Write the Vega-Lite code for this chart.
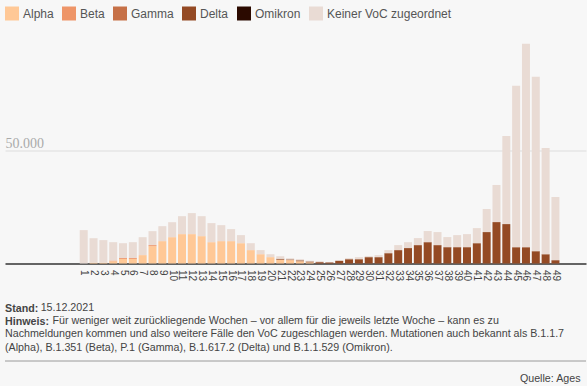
{
  "$schema": "https://vega.github.io/schema/vega-lite/v6.json",
  "width": 581,
  "height": 227,
  "autosize": "none",
  "padding": {"left": 5, "top": 36.5, "right": 1, "bottom": 122.5},
  "background": "#f7f7f7",
  "title": {
    "text": ["Stand:", "Hinweis:"],
    "subtitle": [
      "\u200b\u00a0\u00a0\u00a0\u00a0\u00a0\u00a0\u00a0\u00a0\u00a0\u00a0\u00a0\u00a015.12.2021",
      "\u200b\u00a0\u00a0\u00a0\u00a0\u00a0\u00a0\u00a0\u00a0\u00a0\u00a0\u00a0\u00a0\u00a0\u00a0\u00a0\u00a0Für weniger weit zurückliegende Wochen – vor allem für die jeweils letzte Woche – kann es zu",
      "Nachmeldungen kommen und also weitere Fälle den VoC zugeschlagen werden. Mutationen auch bekannt als B.1.1.7",
      "(Alpha), B.1.351 (Beta), P.1 (Gamma), B.1.617.2 (Delta) und B.1.1.529 (Omikron)."
    ],
    "orient": "bottom",
    "anchor": "start",
    "frame": "group",
    "offset": -80,
    "font": "Liberation Sans",
    "fontSize": 10.7,
    "fontWeight": "bold",
    "color": "#444444",
    "lineHeight": 13.2,
    "subtitleFont": "Liberation Sans",
    "subtitleFontSize": 10.7,
    "subtitleFontWeight": "normal",
    "subtitleColor": "#444444",
    "subtitleLineHeight": 13.2,
    "subtitlePadding": -24.4
  },
  "data": {
    "values": [
      {"week": 1, "variant": "Keiner VoC zugeordnet", "cases": 14700},
      {"week": 2, "variant": "Alpha", "cases": 400},
      {"week": 2, "variant": "Keiner VoC zugeordnet", "cases": 10750},
      {"week": 3, "variant": "Alpha", "cases": 400},
      {"week": 3, "variant": "Keiner VoC zugeordnet", "cases": 9900},
      {"week": 4, "variant": "Alpha", "cases": 1000},
      {"week": 4, "variant": "Beta", "cases": 300},
      {"week": 4, "variant": "Keiner VoC zugeordnet", "cases": 8100},
      {"week": 5, "variant": "Alpha", "cases": 2000},
      {"week": 5, "variant": "Beta", "cases": 400},
      {"week": 5, "variant": "Keiner VoC zugeordnet", "cases": 6550},
      {"week": 6, "variant": "Alpha", "cases": 2000},
      {"week": 6, "variant": "Beta", "cases": 400},
      {"week": 6, "variant": "Keiner VoC zugeordnet", "cases": 7000},
      {"week": 7, "variant": "Alpha", "cases": 3700},
      {"week": 7, "variant": "Keiner VoC zugeordnet", "cases": 7900},
      {"week": 8, "variant": "Alpha", "cases": 7650},
      {"week": 8, "variant": "Beta", "cases": 450},
      {"week": 8, "variant": "Keiner VoC zugeordnet", "cases": 6150},
      {"week": 9, "variant": "Alpha", "cases": 9850},
      {"week": 9, "variant": "Keiner VoC zugeordnet", "cases": 6600},
      {"week": 10, "variant": "Alpha", "cases": 11600},
      {"week": 10, "variant": "Keiner VoC zugeordnet", "cases": 6600},
      {"week": 11, "variant": "Alpha", "cases": 12950},
      {"week": 11, "variant": "Keiner VoC zugeordnet", "cases": 7900},
      {"week": 12, "variant": "Alpha", "cases": 12950},
      {"week": 12, "variant": "Keiner VoC zugeordnet", "cases": 9250},
      {"week": 13, "variant": "Alpha", "cases": 12050},
      {"week": 13, "variant": "Keiner VoC zugeordnet", "cases": 8800},
      {"week": 14, "variant": "Alpha", "cases": 9400},
      {"week": 14, "variant": "Keiner VoC zugeordnet", "cases": 8400},
      {"week": 15, "variant": "Alpha", "cases": 9850},
      {"week": 15, "variant": "Keiner VoC zugeordnet", "cases": 7050},
      {"week": 16, "variant": "Alpha", "cases": 9850},
      {"week": 16, "variant": "Keiner VoC zugeordnet", "cases": 5300},
      {"week": 17, "variant": "Alpha", "cases": 8950},
      {"week": 17, "variant": "Keiner VoC zugeordnet", "cases": 3550},
      {"week": 18, "variant": "Alpha", "cases": 5900},
      {"week": 18, "variant": "Keiner VoC zugeordnet", "cases": 3050},
      {"week": 19, "variant": "Alpha", "cases": 4100},
      {"week": 19, "variant": "Keiner VoC zugeordnet", "cases": 1800},
      {"week": 20, "variant": "Alpha", "cases": 2800},
      {"week": 20, "variant": "Keiner VoC zugeordnet", "cases": 1300},
      {"week": 21, "variant": "Alpha", "cases": 1700},
      {"week": 21, "variant": "Delta", "cases": 400},
      {"week": 21, "variant": "Keiner VoC zugeordnet", "cases": 1100},
      {"week": 22, "variant": "Alpha", "cases": 1500},
      {"week": 22, "variant": "Delta", "cases": 300},
      {"week": 22, "variant": "Keiner VoC zugeordnet", "cases": 500},
      {"week": 23, "variant": "Alpha", "cases": 1000},
      {"week": 23, "variant": "Delta", "cases": 400},
      {"week": 23, "variant": "Keiner VoC zugeordnet", "cases": 500},
      {"week": 24, "variant": "Alpha", "cases": 500},
      {"week": 24, "variant": "Delta", "cases": 400},
      {"week": 24, "variant": "Keiner VoC zugeordnet", "cases": 300},
      {"week": 25, "variant": "Delta", "cases": 600},
      {"week": 25, "variant": "Keiner VoC zugeordnet", "cases": 400},
      {"week": 26, "variant": "Delta", "cases": 500},
      {"week": 26, "variant": "Keiner VoC zugeordnet", "cases": 100},
      {"week": 27, "variant": "Delta", "cases": 1200},
      {"week": 28, "variant": "Delta", "cases": 1900},
      {"week": 28, "variant": "Keiner VoC zugeordnet", "cases": 450},
      {"week": 29, "variant": "Delta", "cases": 1900},
      {"week": 29, "variant": "Keiner VoC zugeordnet", "cases": 900},
      {"week": 30, "variant": "Delta", "cases": 2800},
      {"week": 30, "variant": "Keiner VoC zugeordnet", "cases": 450},
      {"week": 31, "variant": "Delta", "cases": 2800},
      {"week": 31, "variant": "Keiner VoC zugeordnet", "cases": 900},
      {"week": 32, "variant": "Delta", "cases": 4550},
      {"week": 32, "variant": "Keiner VoC zugeordnet", "cases": 1350},
      {"week": 33, "variant": "Delta", "cases": 5900},
      {"week": 33, "variant": "Keiner VoC zugeordnet", "cases": 2200},
      {"week": 34, "variant": "Delta", "cases": 6800},
      {"week": 34, "variant": "Keiner VoC zugeordnet", "cases": 2600},
      {"week": 35, "variant": "Delta", "cases": 8100},
      {"week": 35, "variant": "Keiner VoC zugeordnet", "cases": 3100},
      {"week": 36, "variant": "Delta", "cases": 9400},
      {"week": 36, "variant": "Keiner VoC zugeordnet", "cases": 4900},
      {"week": 37, "variant": "Delta", "cases": 8100},
      {"week": 37, "variant": "Keiner VoC zugeordnet", "cases": 5750},
      {"week": 38, "variant": "Delta", "cases": 7200},
      {"week": 38, "variant": "Keiner VoC zugeordnet", "cases": 4450},
      {"week": 39, "variant": "Delta", "cases": 7200},
      {"week": 39, "variant": "Keiner VoC zugeordnet", "cases": 5300},
      {"week": 40, "variant": "Delta", "cases": 7200},
      {"week": 40, "variant": "Keiner VoC zugeordnet", "cases": 5750},
      {"week": 41, "variant": "Delta", "cases": 8950},
      {"week": 41, "variant": "Keiner VoC zugeordnet", "cases": 6650},
      {"week": 42, "variant": "Delta", "cases": 13850},
      {"week": 42, "variant": "Keiner VoC zugeordnet", "cases": 10150},
      {"week": 43, "variant": "Delta", "cases": 18250},
      {"week": 43, "variant": "Keiner VoC zugeordnet", "cases": 16350},
      {"week": 44, "variant": "Delta", "cases": 17350},
      {"week": 44, "variant": "Keiner VoC zugeordnet", "cases": 38850},
      {"week": 45, "variant": "Delta", "cases": 7200},
      {"week": 45, "variant": "Keiner VoC zugeordnet", "cases": 71100},
      {"week": 46, "variant": "Delta", "cases": 7200},
      {"week": 46, "variant": "Keiner VoC zugeordnet", "cases": 89600},
      {"week": 47, "variant": "Delta", "cases": 5450},
      {"week": 47, "variant": "Keiner VoC zugeordnet", "cases": 76800},
      {"week": 48, "variant": "Delta", "cases": 4100},
      {"week": 48, "variant": "Keiner VoC zugeordnet", "cases": 46800},
      {"week": 49, "variant": "Delta", "cases": 1470},
      {"week": 49, "variant": "Keiner VoC zugeordnet", "cases": 27830}
    ]
  },
  "layer": [
    {
      "mark": {"type": "bar", "width": 8},
      "encoding": {
        "x": {
          "field": "week",
          "type": "quantitative",
          "scale": {"domain": [-6.5, 51.6], "nice": false, "zero": false},
          "axis": {
            "values": [1,2,3,4,5,6,7,8,9,10,11,12,13,14,15,16,17,18,19,20,21,22,23,24,25,26,27,28,29,30,31,32,33,34,35,36,37,38,39,40,41,42,43,44,45,46,47,48,49],
            "labelAngle": 90,
            "labelFont": "Liberation Sans",
            "labelFontSize": 10,
            "labelColor": "#444444",
            "labelPadding": 6,
            "labelOverlap": false,
            "labelFlush": false,
            "ticks": false,
            "grid": false,
            "domainColor": "#333333",
            "domainWidth": 1.5,
            "title": "Quelle: Ages",
            "titleFont": "Liberation Sans",
            "titleFontSize": 10.7,
            "titleFontWeight": "normal",
            "titleColor": "#444444",
            "titleX": 575,
            "titleY": 115.4,
            "titleAlign": "right",
            "titleBaseline": "middle"
          }
        },
        "y": {
          "field": "cases",
          "type": "quantitative",
          "stack": "zero",
          "scale": {"domain": [0, 100000], "nice": false},
          "axis": {
            "values": [50000],
            "labelExpr": "replace(format(datum.value, ','), ',', '.')",
            "grid": true,
            "gridColor": "#dddddd",
            "gridWidth": 1,
            "domain": false,
            "ticks": false,
            "tickSize": 0,
            "labelPadding": 0,
            "labelAlign": "left",
            "labelBaseline": "alphabetic",
            "labelOffset": -3,
            "labelFont": "Liberation Serif",
            "labelFontSize": 14,
            "labelColor": "#aaaaaa",
            "title": null
          }
        },
        "color": {
          "field": "variant",
          "type": "nominal",
          "scale": {
            "domain": ["Alpha", "Beta", "Gamma", "Delta", "Omikron", "Keiner VoC zugeordnet"],
            "range": ["#ffc896", "#ee9568", "#c67047", "#944a24", "#2b0a00", "#e9dbd4"]
          },
          "legend": {
            "orient": "none",
            "legendX": 0,
            "legendY": -30,
            "direction": "horizontal",
            "title": null,
            "symbolType": "square",
            "symbolSize": 196,
            "symbolStrokeWidth": 0,
            "symbolOpacity": 1,
            "labelFont": "Liberation Sans",
            "labelFontSize": 12,
            "labelColor": "#555555",
            "labelOffset": 4,
            "columnPadding": 8
          }
        },
        "order": {"field": "variant", "sort": "ascending"}
      }
    },
    {
      "mark": {"type": "rule", "color": "#c8c8c8", "strokeWidth": 1},
      "encoding": {
        "y": {"datum": -43000}
      }
    }
  ],
  "config": {
    "view": {"stroke": null}
  }
}
